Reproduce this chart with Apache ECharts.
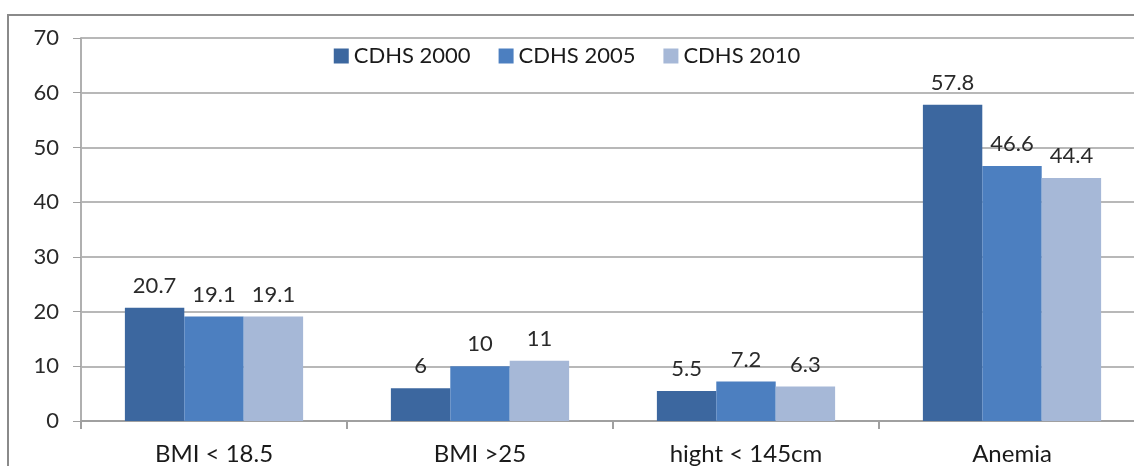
<!DOCTYPE html>
<html>
<head>
<meta charset="utf-8">
<script src="https://cdn.jsdelivr.net/npm/echarts@6/dist/echarts.min.js"></script>
<style>html,body{margin:0;padding:0;background:#fff}#c{width:1134px;height:466px}</style>
</head>
<body>
<div id="c"></div>
<script>
var categories = ['BMI < 18.5', 'BMI >25', 'hight < 145cm', 'Anemia'];
var seriesNames = ['CDHS 2000', 'CDHS 2005', 'CDHS 2010'];
var cdhs2000 = [20.7, 6, 5.5, 57.8];
var cdhs2005 = [19.1, 10, 7.2, 46.6];
var cdhs2010 = [19.1, 11, 6.3, 44.4];
var yTicks = [0, 10, 20, 30, 40, 50, 60, 70];

var colors = ['#3C679F', '#4C7FC0', '#A6B8D7'];
var font = 'Lato, "Liberation Sans", sans-serif';
var values = [cdhs2000, cdhs2005, cdhs2010];

var chart = echarts.init(document.getElementById('c'), null, {renderer: 'canvas'});
chart.setOption({
  animation: false,
  color: colors,
  textStyle: {fontFamily: font},
  graphic: [{
    type: 'rect',
    shape: {x: 8, y: 15, width: 1200, height: 520},
    style: {fill: 'none', stroke: '#8a8a8a', lineWidth: 2},
    z: 100
  }],
  legend: {
    top: 40,
    left: 'center',
    icon: 'rect',
    itemWidth: 15,
    itemHeight: 15,
    itemGap: 28,
    textStyle: {fontFamily: font, fontSize: 22, color: '#1a1a1a'},
    data: seriesNames
  },
  grid: {left: 81, top: 38, bottom: 45, width: 1064, containLabel: false, outerBoundsMode: 'none'},
  xAxis: {
    type: 'category',
    data: categories,
    axisLine: {lineStyle: {color: '#a0a0a0', width: 2}},
    axisTick: {show: true, length: 8, lineStyle: {color: '#a0a0a0', width: 2}},
    axisLabel: {fontFamily: font, fontSize: 24, color: '#1a1a1a', margin: 21}
  },
  yAxis: {
    type: 'value',
    min: yTicks[0],
    max: yTicks[yTicks.length - 1],
    interval: 10,
    axisLine: {show: true, lineStyle: {color: '#b0b0b0', width: 2}},
    axisTick: {show: true, length: 8, lineStyle: {color: '#a0a0a0', width: 1}},
    splitLine: {lineStyle: {color: '#a0a0a0', width: 1.5}},
    axisLabel: {fontFamily: font, fontSize: 22, color: '#2a2a2a', margin: 22}
  },
  series: seriesNames.map(function (name, i) {
    return {
      name: name,
      type: 'bar',
      data: values[i],
      barGap: '0%',
      barCategoryGap: '33%',
      itemStyle: {color: colors[i]},
      label: {
        show: true,
        position: 'top',
        distance: 11,
        fontFamily: font,
        fontSize: 22,
        color: '#2a2a2a'
      }
    };
  })
});
</script>
</body>
</html>
